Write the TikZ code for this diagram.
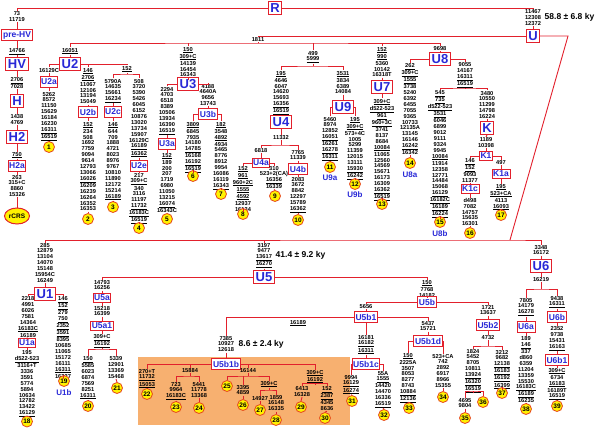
\documentclass[tikz,border=0pt]{standalone}
\usepackage{fontspec}
\setmainfont{Liberation Sans}
\usetikzlibrary{positioning,shapes.geometric}
\definecolor{hgred}{RGB}{226,32,44}
\definecolor{hgblue}{RGB}{40,40,215}
\definecolor{leafred}{RGB}{230,70,30}
\definecolor{younger}{RGB}{247,176,112}
\newcommand{\mutfont}{\fontsize{5.7}{5.9}\selectfont\bfseries}
\newcommand{\ux}[1]{\underline{#1}}
\tikzset{
  mut/.style={font=\mutfont, align=center, inner sep=0.4pt, anchor=north},
  hg/.style={draw=hgred, line width=1pt, fill=white, text=hgblue, font=\bfseries\fontsize{13}{13}\selectfont, inner sep=2pt},
  subhg/.style={hg, font=\bfseries\fontsize{8.5}{8.5}\selectfont, inner xsep=1.2pt, inner ysep=2pt},
  leaf/.style={circle, draw=leafred, fill=yellow, line width=0.8pt, inner sep=0pt, minimum size=11pt, font=\bfseries\fontsize{6.5}{6.5}\selectfont},
  link/.style={draw=hgred, line width=0.9pt},
  tag/.style={text=hgblue, font=\bfseries\fontsize{8}{8}\selectfont, inner sep=0pt},
  age/.style={font=\bfseries\fontsize{8.5}{8.5}\selectfont, inner sep=0pt},
}
\begin{document}
\begin{tikzpicture}[x=1pt,y=-1pt]
\useasboundingbox (0,0) rectangle (603,428);
\fill[younger] (138,357) rectangle (350,425);

% top and left column
\node[hg] (R) at (275,8) {R};
\node[mut] (t73) at (17,11) {73\\11719};
\node[subhg] (preHV) at (17,35) {pre-HV};
\node[mut] (t14766) at (17,48) {\ux{14766}};
\node[hg] (HV) at (17,64) {HV};
\node[mut] (t2706) at (17,77) {\ux{2706}\\7028};
\node[hg] (H) at (17,101) {H};
\node[mut] (t1438) at (17,114) {1438\\4769};
\node[hg] (H2) at (17,137) {H2};
\node[mut] (t750) at (17,151.5) {\ux{750}};
\node[subhg] (H2a) at (17,166) {H2a};
\node[mut] (t263) at (17,174.5) {263\\315+C\\8860\\15326};
\node[ellipse, draw=hgred, fill=yellow, line width=1pt, inner sep=0pt, minimum width=25pt, minimum height=16pt, font=\bfseries\fontsize{6.5}{6.5}\selectfont] (rcrs) at (17,216) {rCRS};

% U
\node[mut] (tU) at (533,9) {11467\\12308\\12372};
\node[hg] (U) at (533,36) {U};
\node[age, right=3pt of tU] (age1) {58.8 ± 6.8 ky};
\node[mut] (n1811) at (258,37) {1811};
\coordinate (b1811) at (258,43);
\coordinate (ucorner) at (568,36);
\coordinate (ubend) at (510,240);

% U2
\node[mut] (t16051) at (70,47.5) {\ux{16051}};
\node[hg] (U2) at (70,64) {U2};
\node[mut] (t16129c) at (49,67.5) {16129C};
\node[subhg] (U2a) at (49,82) {U2a};
\node[mut] (t2a) at (49,91.5) {5262\\8572\\11150\\15629\\16184\\16230\\\ux{16311}\\\ux{16519}};
\node[leaf] (c1) at (49,147) {1};
\node[mut] (t2b-up) at (88,67.5) {\ux{146}\\\ux{2706}\\11067\\12106\\13194\\15049};
\node[subhg] (U2b) at (88,112) {U2b};
\node[mut] (t2b) at (88,121.5) {\ux{152}\\234\\508\\1692\\7759\\9094\\9614\\12793\\13066\\\ux{16026}\\16209\\16239\\16264\\16352\\16353};
\node[leaf] (c2) at (88,219) {2};
\node[mut] (t152) at (127,65.5) {\ux{152}};
\coordinate (b152) at (127,74);
\node[mut] (t2c-up) at (113,78.5) {5790A\\14635\\15661\\\ux{16234}};
\node[subhg] (U2c) at (113,112) {U2c};
\node[mut] (t2c) at (113,121.5) {\ux{146}\\644\\709\\1888\\4721\\8023\\8976\\9767\\10810\\11890\\12172\\15214\\\ux{16189}};
\node[leaf] (c3) at (113,207) {3};
\node[mut] (t2e-up) at (139,78.5) {508\\3720\\5390\\5426\\6045\\6152\\10876\\13020\\13734\\15907\\16129C\\\ux{16189}\\\ux{16362}};
\node[subhg] (U2e) at (139,166) {U2e};
\node[mut] (t2e) at (139,172.5) {217\\\ux{309+C}\\340\\3116\\11197\\\ux{11732}\\\ux{16183C}\\\ux{16519}};
\node[leaf] (c4) at (139,228) {4};

% U3
\node[mut] (tU3) at (188,46.5) {\ux{150}\\\ux{309+C}\\14139\\16454\\\ux{16343}};
\node[hg] (U3) at (188,84) {U3};
\node[mut] (t3a-up) at (167,86.5) {2294\\4703\\6518\\8389\\10506\\13934\\16390\\\ux{16519}};
\node[subhg] (U3a) at (167,144) {U3a};
\node[mut] (t3a) at (167,152.5) {\ux{152}\\189\\200\\207\\1719\\6980\\11050\\13215\\\ux{16074}\\16343C};
\node[leaf] (c5) at (167,219) {5};
\node[mut] (t3b-up) at (208,83.5) {4188\\4640A\\9656\\13743};
\node[subhg] (U3b) at (208,114) {U3b};
\node[mut] (t3b1) at (193,121.5) {\ux{3809}\\6845\\7935\\14180\\\ux{14785}\\16168\\\ux{16192}\\\ux{16519}};
\node[leaf] (c6) at (193,176) {6};
\node[mut] (t3b2) at (221,121.5) {\ux{182}\\3548\\\ux{4892}\\4934\\5465\\8776\\8912\\9954\\16086\\16119\\\ux{16343}};
\node[leaf] (c7) at (221,194) {7};

% U4 and U9
\node[mut] (t499) at (313,50.5) {499\\\ux{5999}};
\coordinate (b499) at (313,66);
\node[mut] (tU4) at (281,70.5) {\ux{195}\\4646\\6047\\14620\\15693\\\ux{16356}\\\ux{16519}};
\node[hg] (U4) at (281,122) {U4};
\node[mut] (t11332) at (281,134.5) {11332};
\coordinate (b11332) at (281,145);
\node[mut] (t6818) at (261,147.5) {6818};
\node[subhg] (U4a) at (261,163) {U4a};
\node[mut] (t4a1) at (243,165.5) {\ux{152}\\\ux{961}\\\ux{960+2C}\\\ux{1555}\\\ux{4592}\\12937\\16134};
\node[leaf] (c8) at (243,214) {8};
\node[mut] (t4a2) at (274,165.5) {310\\523+2(CA)\\\ux{16356}\\16339};
\node[leaf] (c9) at (275,196) {9};
\node[mut] (t7765) at (298,149.5) {7765\\11339};
\node[subhg] (U4b) at (298,169) {U4b};
\node[mut] (t4b) at (298,176.5) {2083\\3672\\8842\\12297\\15789\\\ux{16362}};
\node[leaf] (c10) at (298,220) {10};
\node[mut] (tU9) at (343,70.5) {\ux{3531}\\3834\\6389\\14084};
\node[hg] (U9) at (343,107) {U9};
\node[mut] (t9a) at (330,116.5) {5460\\8974\\12852\\\ux{16051}\\16261\\\ux{16278}\\\ux{16311}};
\node[leaf] (c11) at (330,167) {11};
\node[tag] (l9a) at (330,178) {U9a};
\node[mut] (t9b) at (355,116.5) {\ux{195}\\\ux{309+C}\\573+4C\\1005\\5299\\11359\\12015\\13111\\\ux{15930}\\\ux{16242}};
\node[leaf] (c12) at (355,184) {12};
\node[tag] (l9b) at (355,195) {U9b};

% U7
\node[mut] (tU7) at (382,46.5) {\ux{152}\\\ux{990}\\5360\\10142\\16318T};
\node[hg] (U7) at (382,87) {U7};
\node[mut] (t7) at (382,98.5) {\ux{309+C}\\\ux{d522-523}\\\ux{961}\\\ux{960+3C}\\3741\\8137\\8684\\\ux{10084}\\11065\\12560\\14569\\15671\\16173\\16309\\\ux{16362}\\\ux{16519}};
\node[leaf] (c13) at (382,204) {13};

% U8 and K
\node[mut] (t9698) at (440,46) {9698};
\node[hg] (U8) at (440,59) {U8};
\node[mut] (t8a) at (410,63) {\ux{262}\\\ux{309+C}\\\ux{1555}\\3738\\5240\\6392\\6455\\7055\\9365\\10733\\12135A\\13145\\16146\\\ux{16242}\\16342};
\node[leaf] (c14) at (410,163) {14};
\node[tag] (l8a) at (410,175) {U8a};
\node[mut] (t9055) at (465,62) {9055\\14167\\\ux{16311}\\\ux{16519}};
\coordinate (b9055) at (465,88);
\node[mut] (t8b) at (440,90) {\ux{545}\\\ux{735}\\\ux{d522-523}\\\ux{3531}\\6046\\6899\\9012\\9111\\9324\\9945\\\ux{10084}\\11914\\12358\\12771\\14484\\15068\\\ux{16129}\\\ux{16182C}\\\ux{16189}\\\ux{16224}};
\node[leaf] (c15) at (440,222) {15};
\node[tag] (l8b) at (440,233.5) {U8b};
\node[mut] (tK) at (487,90.5) {3480\\10550\\11299\\14798\\16224};
\node[hg] (K) at (487,128) {K};
\node[mut] (t1189) at (486,137) {1189\\10398};
\node[subhg] (K1) at (486,156) {K1};
\node[mut] (t1c-up) at (470,158) {\ux{146}\\\ux{152}\\9093\\11377};
\node[subhg] (K1c) at (470,189) {K1c};
\node[mut] (t1c) at (470,197.5) {d498\\7082\\14757\\15635\\16301};
\node[leaf] (c16) at (470,233) {16};
\node[mut] (t497) at (501,160) {497};
\node[subhg] (K1a) at (501,174) {K1a};
\node[mut] (t1a) at (501,183.5) {\ux{195}\\\ux{523+CA}\\4113\\\ux{16093}};
\node[leaf] (c17) at (501,215) {17};

% U1
\node[mut] (tU1) at (45,242.5) {285\\12879\\13104\\14070\\15148\\15954C\\16249};
\node[hg] (U1) at (45,294) {U1};
\node[mut] (t1a-up) at (28,296) {2218\\4991\\6026\\7581\\14364\\\ux{16183C}\\\ux{16189}};
\node[subhg] (U1a) at (27,343) {U1a};
\node[mut] (t1a-dn) at (27,350) {195\\\ux{d522-523}\\3116+T\\3336\\3591\\5774\\5894\\10634\\12782\\13422\\\ux{16129}};
\node[leaf] (c18) at (27,421.5) {18};
\node[mut] (t1b) at (63,296) {\ux{146}\\\ux{152}\\279\\\ux{750}\\\ux{2352}\\\ux{3591}\\8395\\10685\\11065\\15172\\16111\\\ux{16311}\\16327};
\node[leaf] (c19) at (64,381) {19};
\node[tag] (l1b) at (64,393) {U1b};

% U5
\node[mut] (tU5) at (264,242.5) {3197\\9477\\\ux{13617}\\\ux{16270}};
\node[hg] (U5) at (264,277) {U5};
\node[age, right=3pt of tU5] (age2) {41.4 ± 9.2 ky};
\node[mut] (t5a-up) at (102,279.5) {14793\\16256};
\node[subhg] (U5a) at (102,298) {U5a};
\node[mut] (t5a1-up) at (102,305.5) {15218\\16399};
\node[subhg] (U5a1) at (102,326) {U5a1};
\node[mut] (t5a1) at (102,334) {\ux{309+C}\\\ux{16192}};
\coordinate (b5a1) at (102,349);
\node[mut] (t5a1a) at (88,356) {\ux{150}\\5585\\6023\\6874\\7569\\8251\\\ux{16311}};
\node[leaf] (c20) at (88,406) {20};
\node[mut] (t5a1b) at (116,356) {5339\\12901\\13369\\15468};
\node[leaf] (c21) at (117,388) {21};
\node[mut] (t5b-up) at (427,279.5) {\ux{150}\\7768\\14182};
\node[subhg] (U5b) at (427,302) {U5b};
\node[mut] (t5656) at (366,304) {5656};
\node[subhg] (U5b1) at (366,317) {U5b1};
\node[mut] (n16189) at (298,319.5) {\ux{16189}};
\node[mut] (t5b1b-up) at (226,335.5) {7385\\10927\\12618};
\node[subhg] (U5b1b) at (226,364) {U5b1b};
\node[age, right=4pt of t5b1b-up] (age3) {8.6 ± 2.4 ky};
\node[mut] (t22) at (147,368.5) {270+T\\\ux{11732}\\\ux{15053}};
\node[leaf] (c22) at (147,394) {22};
\node[mut] (t15884) at (190,367.5) {15884};
\coordinate (b15884) at (190,376);
\node[mut] (t23) at (176,381.5) {723\\9964\\\ux{16183C}};
\node[leaf] (c23) at (176,407) {23};
\node[mut] (t24) at (199,381.5) {5441\\11778\\13368};
\node[leaf] (c24) at (199,408) {24};
\node[mut] (t16144) at (248,367.5) {16144};
\coordinate (b16144) at (248,376);
\node[leaf] (c25) at (227,386) {25};
\node[mut] (t26) at (243,384.5) {3395\\4859};
\node[leaf] (c26) at (243,405) {26};
\node[mut] (t309c) at (269,380.5) {\ux{309+C}};
\coordinate (b309c) at (269,390);
\node[mut] (t27) at (260,395.5) {14927};
\node[leaf] (c27) at (260,410) {27};
\node[mut] (t28) at (276,394.5) {1859\\16148\\16335};
\node[leaf] (c28) at (276,420) {28};
\node[mut] (t5b1b5) at (315,369.5) {\ux{309+C}\\\ux{16192}};
\coordinate (b5b1b5) at (315,383.5);
\node[mut] (t29) at (302,386) {6413\\16328};
\node[leaf] (c29) at (301,407) {29};
\node[mut] (t30) at (327,386) {\ux{152}\\\ux{2387}\\4345\\8636};
\node[leaf] (c30) at (325,418) {30};
\node[mut] (t5b1c-up) at (366,334.5) {16181\\\ux{16182}\\\ux{16311}};
\node[subhg] (U5b1c) at (366,364) {U5b1c};
\node[mut] (t31) at (351,374.5) {9994\\\ux{16129}\\\ux{16274}};
\node[leaf] (c31) at (352,401) {31};
\node[mut] (t32) at (383,370.5) {55A\\\ux{1555}\\14420\\14470\\16336\\\ux{16519}};
\node[leaf] (c32) at (384,415) {32};
\node[mut] (t5b1d-up) at (428,320.5) {5437\\15721};
\node[subhg] (U5b1d) at (428,341) {U5b1d};
\node[mut] (t33) at (408,352.5) {\ux{150}\\2225A\\3507\\8053\\8277\\8743\\\ux{10884}\\\ux{12136}};
\node[leaf] (c33) at (409,408) {33};
\node[mut] (t34) at (443,353.5) {523+CA\\742\\2892\\6917\\8966\\15355};
\node[leaf] (c34) at (443,397) {34};
\node[mut] (t5b2-up) at (488,304.5) {1721\\13637};
\node[subhg] (U5b2) at (488,325) {U5b2};
\node[mut] (t4732) at (488,335) {4732};
\coordinate (b4732) at (488,346);
\node[mut] (t5b2a) at (473,348.5) {1824\\5452\\8705\\10811\\\ux{13924}\\\ux{16320}\\\ux{16519}};
\coordinate (b5b2a) at (473,391);
\node[mut] (t35) at (465,397.5) {4695\\9804};
\node[leaf] (c35) at (465,418) {35};
\node[leaf] (c36) at (483,402) {36};
\node[mut] (t5b2b) at (502,349.5) {3212\\9682\\\ux{12138}\\\ux{16183}\\\ux{16192}\\\ux{16399}};
\node[leaf] (c37) at (502,393) {37};

% U6
\node[mut] (tU6) at (541,244.5) {3348\\16172};
\node[hg] (U6) at (541,266) {U6};
\node[mut] (t16219) at (541,276.5) {16219};
\coordinate (b16219) at (541,289);
\node[mut] (t6a-up) at (526,297.5) {7805\\14179\\\ux{16278}};
\node[subhg] (U6a) at (526,327) {U6a};
\node[mut] (t6a) at (526,336) {189\\\ux{146}\\337\\d860\\6359\\11204\\13359\\15530\\\ux{16183C}\\\ux{16189}\\16235};
\node[leaf] (c38) at (526,409) {38};
\node[mut] (t6b-up) at (557,295.5) {9438\\\ux{16311}};
\node[subhg] (U6b) at (557,317) {U6b};
\node[mut] (t6b) at (557,326) {2352\\9738\\15431\\\ux{16163}};
\node[subhg] (U6b1) at (557,360) {U6b1};
\node[mut] (t6b1) at (557,367.5) {\ux{309+C}\\6734\\\ux{16183}\\16189T\\\ux{16519}};
\node[leaf] (c39) at (557,406) {39};

% connectors
\draw[link] (t73.north) |- (R.west);
\draw[link] (R.east) -| (tU.north);
\draw[link] (tU.south) -- (U.north);
\draw[link] (t73.south) -- (preHV.north);
\draw[link] (preHV.south) -- (t14766.north);
\draw[link] (t14766.south) -- (HV.north);
\draw[link] (HV.south) -- (t2706.north);
\draw[link] (t2706.south) -- (H.north);
\draw[link] (H.south) -- (t1438.north);
\draw[link] (t1438.south) -- (H2.north);
\draw[link] (H2.south) -- (t750.north);
\draw[link] (t750.south) -- (H2a.north);
\draw[link] (H2a.south) -- (t263.north);
\draw[link] (t263.south) -- (rcrs.north);
\draw[link] (n1811.north) |- (U.west);
\draw[link] (n1811.south) -- (b1811);
\draw[link] (U.east) -- (U.east -| ucorner) -- (ubend);
\draw[link] (t16051.north) |- (b1811) -| (t9698.north);
\draw[link] (tU3.north) -- (tU3.north |- b1811);
\draw[link] (t499.north) -- (t499.north |- b1811);
\draw[link] (tU7.north) -- (tU7.north |- b1811);

\draw[link] (t16051.south) -- (U2.north);
\draw[link] (t16129c.north) |- (U2.west);
\draw[link] (U2.east) -| (t152.north);
\draw[link] (t2b-up.north) -- (t2b-up.north |- U2.east);
\draw[link] (t16129c.south) -- (U2a.north);
\draw[link] (U2a.south) -- (t2a.north);
\draw[link] (t2a.south) -- (c1.north);
\draw[link] (t2b-up.south) -- (U2b.north);
\draw[link] (U2b.south) -- (t2b.north);
\draw[link] (t2b.south) -- (c2.north);
\draw[link] (t152.south) -- (b152);
\draw[link] (t2c-up.north) |- (b152) -| (t2e-up.north);
\draw[link] (t2c-up.south) -- (U2c.north);
\draw[link] (U2c.south) -- (t2c.north);
\draw[link] (t2c.south) -- (c3.north);
\draw[link] (t2e-up.south) -- (U2e.north);
\draw[link] (U2e.south) -- (t2e.north);
\draw[link] (t2e.south) -- (c4.north);

\draw[link] (tU3.south) -- (U3.north);
\draw[link] (t3a-up.north) |- (U3.west);
\draw[link] (U3.east) -| (t3b-up.north);
\draw[link] (t3a-up.south) -- (U3a.north);
\draw[link] (U3a.south) -- (t3a.north);
\draw[link] (t3a.south) -- (c5.north);
\draw[link] (t3b-up.south) -- (U3b.north);
\draw[link] (t3b1.north) |- (U3b.west);
\draw[link] (U3b.east) -| (t3b2.north);
\draw[link] (t3b1.south) -- (c6.north);
\draw[link] (t3b2.south) -- (c7.north);

\draw[link] (t499.south) -- (b499);
\draw[link] (tU4.north) |- (b499) -| (tU9.north);
\draw[link] (tU4.south) -- (U4.north);
\draw[link] (U4.south) -- (t11332.north);
\draw[link] (t11332.south) -- (b11332);
\draw[link] (t6818.north) |- (b11332) -| (t7765.north);
\draw[link] (t6818.south) -- (U4a.north);
\draw[link] (t4a1.north) |- (U4a.west);
\draw[link] (U4a.east) -| (t4a2.north);
\draw[link] (t4a1.south) -- (c8.north);
\draw[link] (t4a2.south) -- (c9.north);
\draw[link] (t7765.south) -- (U4b.north);
\draw[link] (U4b.south) -- (t4b.north);
\draw[link] (t4b.south) -- (c10.north);
\draw[link] (tU9.south) -- (U9.north);
\draw[link] (t9a.north) |- (U9.west);
\draw[link] (U9.east) -| (t9b.north);
\draw[link] (t9a.south) -- (c11.north);
\draw[link] (t9b.south) -- (c12.north);

\draw[link] (tU7.south) -- (U7.north);
\draw[link] (U7.south) -- (t7.north);
\draw[link] (t7.south) -- (c13.north);

\draw[link] (t9698.south) -- (U8.north);
\draw[link] (t8a.north) |- (U8.west);
\draw[link] (U8.east) -| (t9055.north);
\draw[link] (t8a.south) -- (c14.north);
\draw[link] (t9055.south) -- (b9055);
\draw[link] (t8b.north) |- (b9055) -| (tK.north);
\draw[link] (t8b.south) -- (c15.north);
\draw[link] (tK.south) -- (K.north);
\draw[link] (K.south) -- (t1189.north);
\draw[link] (t1189.south) -- (K1.north);
\draw[link] (t1c-up.north) |- (K1.west);
\draw[link] (K1.east) -| (t497.north);
\draw[link] (t1c-up.south) -- (K1c.north);
\draw[link] (K1c.south) -- (t1c.north);
\draw[link] (t1c.south) -- (c16.north);
\draw[link] (t497.south) -- (K1a.north);
\draw[link] (K1a.south) -- (t1a.north);
\draw[link] (t1a.south) -- (c17.north);

\draw[link] (tU1.north) |- (ubend) -| (tU6.north);
\draw[link] (tU5.north) -- (tU5.north |- ubend);
\draw[link] (tU1.south) -- (U1.north);
\draw[link] (t1a-up.north) |- (U1.west);
\draw[link] (U1.east) -| (t1b.north);
\draw[link] (t1a-up.south) -- (U1a.north);
\draw[link] (U1a.south) -- (t1a-dn.north);
\draw[link] (t1a-dn.south) -- (c18.north);
\draw[link] (t1b.south) -- (c19.north);

\draw[link] (tU5.south) -- (U5.north);
\draw[link] (t5a-up.north) |- (U5.west);
\draw[link] (U5.east) -| (t5b-up.north);
\draw[link] (t5a-up.south) -- (U5a.north);
\draw[link] (U5a.south) -- (t5a1-up.north);
\draw[link] (t5a1-up.south) -- (U5a1.north);
\draw[link] (U5a1.south) -- (t5a1.north);
\draw[link] (t5a1.south) -- (b5a1);
\draw[link] (t5a1a.north) |- (b5a1) -| (t5a1b.north);
\draw[link] (t5a1a.south) -- (c20.north);
\draw[link] (t5a1b.south) -- (c21.north);
\draw[link] (t5b-up.south) -- (U5b.north);
\draw[link] (t5656.north) |- (U5b.west);
\draw[link] (U5b.east) -| (t5b2-up.north);
\draw[link] (t5656.south) -- (U5b1.north);
\draw[link] (t5b1b-up.north) |- (U5b1.west);
\draw[link] (U5b1.east) -| (t5b1d-up.north);
\draw[link] (U5b1.south) -- (t5b1c-up.north);
\draw[link] (t5b1b-up.south) -- (U5b1b.north);
\draw[link] (t22.north) |- (U5b1b.west);
\draw[link] (U5b1b.east) -| (t5b1b5.north);
\draw[link] (t22.south) -- (c22.north);
\draw[link] (t15884.north) -- (t15884.north |- U5b1b.west);
\draw[link] (t15884.south) -- (b15884);
\draw[link] (t23.north) |- (b15884) -| (t24.north);
\draw[link] (t23.south) -- (c23.north);
\draw[link] (t24.south) -- (c24.north);
\draw[link] (t16144.north) -- (t16144.north |- U5b1b.east);
\draw[link] (t16144.south) -- (b16144);
\draw[link] (c25.north) |- (b16144) -| (t309c.north);
\draw[link] (t26.north) -- (t26.north |- b16144);
\draw[link] (t26.south) -- (c26.north);
\draw[link] (t309c.south) -- (b309c);
\draw[link] (t27.north) |- (b309c) -| (t28.north);
\draw[link] (t27.south) -- (c27.north);
\draw[link] (t28.south) -- (c28.north);
\draw[link] (t5b1b5.south) -- (b5b1b5);
\draw[link] (t29.north) |- (b5b1b5) -| (t30.north);
\draw[link] (t29.south) -- (c29.north);
\draw[link] (t30.south) -- (c30.north);
\draw[link] (t5b1c-up.south) -- (U5b1c.north);
\draw[link] (t31.north) |- (U5b1c.west);
\draw[link] (U5b1c.east) -| (t32.north);
\draw[link] (t31.south) -- (c31.north);
\draw[link] (t32.south) -- (c32.north);
\draw[link] (t5b1d-up.south) -- (U5b1d.north);
\draw[link] (t33.north) |- (U5b1d.west);
\draw[link] (U5b1d.east) -| (t34.north);
\draw[link] (t33.south) -- (c33.north);
\draw[link] (t34.south) -- (c34.north);
\draw[link] (t5b2-up.south) -- (U5b2.north);
\draw[link] (U5b2.south) -- (t4732.north);
\draw[link] (t4732.south) -- (b4732);
\draw[link] (t5b2a.north) |- (b4732) -| (t5b2b.north);
\draw[link] (t5b2a.south) -- (b5b2a);
\draw[link] (t35.north) |- (b5b2a) -| (c36.north);
\draw[link] (t35.south) -- (c35.north);
\draw[link] (t5b2b.south) -- (c37.north);

\draw[link] (tU6.south) -- (U6.north);
\draw[link] (U6.south) -- (t16219.north);
\draw[link] (t16219.south) -- (b16219);
\draw[link] (t6a-up.north) |- (b16219) -| (t6b-up.north);
\draw[link] (t6a-up.south) -- (U6a.north);
\draw[link] (U6a.south) -- (t6a.north);
\draw[link] (t6a.south) -- (c38.north);
\draw[link] (t6b-up.south) -- (U6b.north);
\draw[link] (U6b.south) -- (t6b.north);
\draw[link] (t6b.south) -- (U6b1.north);
\draw[link] (U6b1.south) -- (t6b1.north);
\draw[link] (t6b1.south) -- (c39.north);
\end{tikzpicture}
\end{document}
